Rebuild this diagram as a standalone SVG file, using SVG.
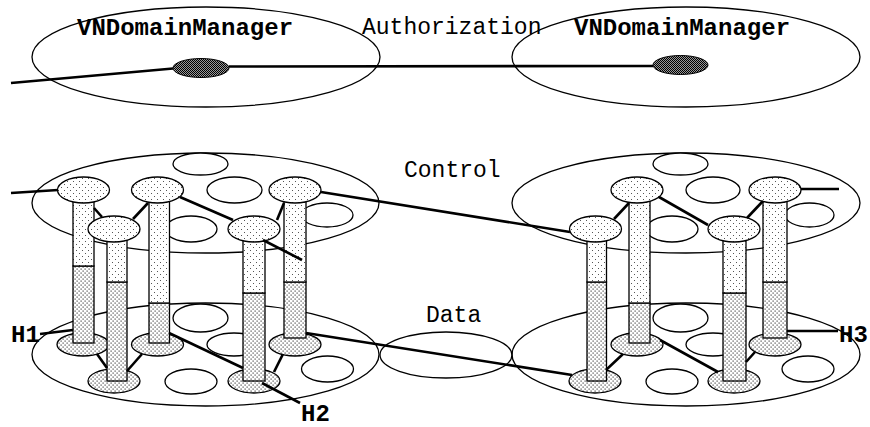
<svg xmlns="http://www.w3.org/2000/svg" width="870" height="427" viewBox="0 0 870 427">
<style>
.pl{fill:none;stroke:#000;stroke-width:1.3}
.wh{fill:#fff;stroke:#000;stroke-width:1.3}
.sp{fill:url(#sparse);stroke:#000;stroke-width:1.3}
.dn{fill:url(#dense);stroke:#000;stroke-width:1.3}
.dk{fill:url(#dark);stroke:#000;stroke-width:1}
.cn line{stroke:#000;stroke-width:2.6;stroke-linecap:butt}
.t{font-family:"Liberation Mono","Courier New",monospace;font-size:23px;fill:#000}
.b{font-family:"Liberation Mono","Courier New",monospace;font-size:24px;font-weight:bold;fill:#000}
</style>
<defs>
<pattern id="sparse" width="6" height="6" patternUnits="userSpaceOnUse"><rect width="6" height="6" fill="#fff"/><rect x="1" y="1" width="1" height="1" fill="#555"/><rect x="4" y="4" width="1" height="1" fill="#555"/></pattern>
<pattern id="dense" width="4" height="4" patternUnits="userSpaceOnUse"><rect width="4" height="4" fill="#fff"/><rect x="0.5" y="0.5" width="1.2" height="1.2" fill="#444"/><rect x="2.5" y="2.5" width="1.2" height="1.2" fill="#444"/></pattern>
<pattern id="dark" width="2" height="2" patternUnits="userSpaceOnUse"><rect width="2" height="2" fill="#999"/><rect x="0" y="0" width="1" height="1" fill="#000"/><rect x="1" y="1" width="1" height="1" fill="#000"/></pattern>
</defs>
<rect width="870" height="427" fill="#fff"/>

<g id="mgr-left">
<ellipse class="pl" cx="206" cy="57" rx="174" ry="50"/>
<ellipse class="dk" cx="201" cy="68" rx="28" ry="9.5"/>
<text class="b" x="77" y="35">VNDomainManager</text>
</g>
<g id="mgr-right">
<ellipse class="pl" cx="686" cy="57" rx="174" ry="50"/>
<ellipse class="dk" cx="680.5" cy="65" rx="27.5" ry="9.5"/>
<text class="b" x="574" y="35">VNDomainManager</text>
</g>
<text class="t" x="362" y="34">Authorization</text>

<g id="control-left">
<ellipse class="pl" cx="205.5" cy="203" rx="173.5" ry="50"/>
<ellipse class="wh" cx="200.5" cy="164" rx="27.5" ry="11"/>
<ellipse class="wh" cx="234.5" cy="190" rx="27.5" ry="13"/>
<ellipse class="wh" cx="191" cy="229" rx="26" ry="13"/>
<ellipse class="wh" cx="327" cy="215" rx="26" ry="12"/>
</g>
<g id="control-right">
<ellipse class="pl" cx="686" cy="203" rx="174" ry="50"/>
<ellipse class="wh" cx="680.5" cy="164" rx="27.5" ry="11"/>
<ellipse class="wh" cx="713" cy="190" rx="27" ry="13"/>
<ellipse class="wh" cx="672" cy="229" rx="26" ry="13"/>
<ellipse class="wh" cx="809.5" cy="215" rx="24.5" ry="12"/>
</g>
<text class="t" x="404" y="177">Control</text>

<g id="data-left">
<ellipse class="pl" cx="205.5" cy="354.5" rx="173.5" ry="51.5"/>
<ellipse class="wh" cx="200.5" cy="318" rx="27.5" ry="14"/>
<ellipse class="wh" cx="234" cy="344.5" rx="27" ry="11.5"/>
<ellipse class="wh" cx="191" cy="381.5" rx="26" ry="12.5"/>
<ellipse class="wh" cx="327.5" cy="369" rx="26" ry="13"/>
</g>
<g id="data-mid">
<ellipse class="pl" cx="446" cy="355" rx="66" ry="23"/>
</g>
<g id="data-right">
<ellipse class="pl" cx="686" cy="354.5" rx="174" ry="51.5"/>
<ellipse class="wh" cx="680.5" cy="318" rx="27.5" ry="14"/>
<ellipse class="wh" cx="713" cy="344.5" rx="27" ry="11.5"/>
<ellipse class="wh" cx="672" cy="381.5" rx="26" ry="12.5"/>
<ellipse class="wh" cx="808" cy="369" rx="26" ry="13"/>
</g>
<text class="t" x="426" y="322">Data</text>

<g id="sw-A">
<ellipse class="dn" cx="83" cy="344.5" rx="26" ry="11.5"/>
<rect class="dn" x="73" y="266" width="21" height="77"/>
<rect class="sp" x="73" y="190" width="21" height="76"/>
<ellipse class="sp" cx="83.5" cy="190" rx="26" ry="13"/>
</g>
<g id="sw-D">
<ellipse class="dn" cx="114" cy="381" rx="26" ry="12"/>
<rect class="dn" x="107" y="282" width="20" height="99"/>
<rect class="sp" x="107" y="229" width="20" height="53"/>
<ellipse class="sp" cx="114" cy="229" rx="26" ry="13"/>
</g>
<g id="sw-B">
<ellipse class="dn" cx="157.5" cy="344.5" rx="26" ry="11.5"/>
<rect class="dn" x="149" y="303" width="20.5" height="40"/>
<rect class="sp" x="149" y="190" width="20.5" height="113"/>
<ellipse class="sp" cx="157.5" cy="190" rx="26" ry="13"/>
</g>
<g id="sw-E">
<ellipse class="dn" cx="254" cy="381" rx="26" ry="12"/>
<rect class="dn" x="243" y="293" width="22" height="88"/>
<rect class="sp" x="243" y="229" width="22" height="64"/>
<ellipse class="sp" cx="254" cy="229" rx="26" ry="13"/>
</g>
<g id="sw-C">
<ellipse class="dn" cx="295" cy="344.5" rx="26" ry="11.5"/>
<rect class="dn" x="284" y="282" width="22" height="56"/>
<rect class="sp" x="284" y="190" width="22" height="92"/>
<ellipse class="sp" cx="295" cy="190" rx="26" ry="13"/>
</g>

<g id="sw-F">
<ellipse class="dn" cx="595" cy="381" rx="26" ry="12"/>
<rect class="dn" x="587" y="282" width="19.5" height="99"/>
<rect class="sp" x="587" y="229" width="19.5" height="53"/>
<ellipse class="sp" cx="595.5" cy="229" rx="26" ry="13"/>
</g>
<g id="sw-G">
<ellipse class="dn" cx="637" cy="344.5" rx="26" ry="11.5"/>
<rect class="dn" x="629" y="303" width="21" height="40"/>
<rect class="sp" x="629" y="190" width="21" height="113"/>
<ellipse class="sp" cx="637" cy="190" rx="26" ry="13"/>
</g>
<g id="sw-I">
<ellipse class="dn" cx="734" cy="381" rx="26" ry="12"/>
<rect class="dn" x="723" y="293" width="23" height="88"/>
<rect class="sp" x="723" y="229" width="23" height="64"/>
<ellipse class="sp" cx="734" cy="229" rx="26" ry="13"/>
</g>
<g id="sw-J">
<ellipse class="dn" cx="775" cy="344.5" rx="26" ry="11.5"/>
<rect class="dn" x="763" y="282" width="24" height="56"/>
<rect class="sp" x="763" y="190" width="24" height="92"/>
<ellipse class="sp" cx="775" cy="190" rx="26" ry="13"/>
</g>

<g id="connectors" class="cn">
<line x1="11" y1="83" x2="173" y2="68.5"/>
<line x1="229" y1="66.5" x2="653" y2="66"/>
<line x1="11" y1="193" x2="58" y2="190"/>
<line x1="94" y1="208" x2="102" y2="217"/>
<line x1="148" y1="203" x2="133" y2="219"/>
<line x1="180" y1="197" x2="233" y2="220"/>
<line x1="284" y1="203" x2="277" y2="220"/>
<line x1="263" y1="240" x2="302" y2="260"/>
<line x1="321" y1="192" x2="570" y2="232"/>
<line x1="614" y1="219" x2="629" y2="203"/>
<line x1="659" y1="197" x2="708" y2="225"/>
<line x1="747" y1="218" x2="763" y2="201"/>
<line x1="801" y1="189" x2="839" y2="189"/>
<line x1="40" y1="334" x2="73" y2="330"/>
<line x1="97" y1="354" x2="107" y2="368"/>
<line x1="142" y1="354" x2="127" y2="371"/>
<line x1="169" y1="333" x2="243" y2="368"/>
<line x1="274" y1="372" x2="283" y2="354"/>
<line x1="262" y1="383" x2="300" y2="403"/>
<line x1="306" y1="333" x2="572" y2="375"/>
<line x1="606" y1="370" x2="623" y2="354"/>
<line x1="660" y1="340" x2="718" y2="372"/>
<line x1="746" y1="362" x2="755" y2="352"/>
<line x1="787" y1="331" x2="838" y2="331"/>
</g>

<text class="b" x="11" y="342">H1</text>
<text class="b" x="301" y="421">H2</text>
<text class="b" x="839" y="342">H3</text>
</svg>
